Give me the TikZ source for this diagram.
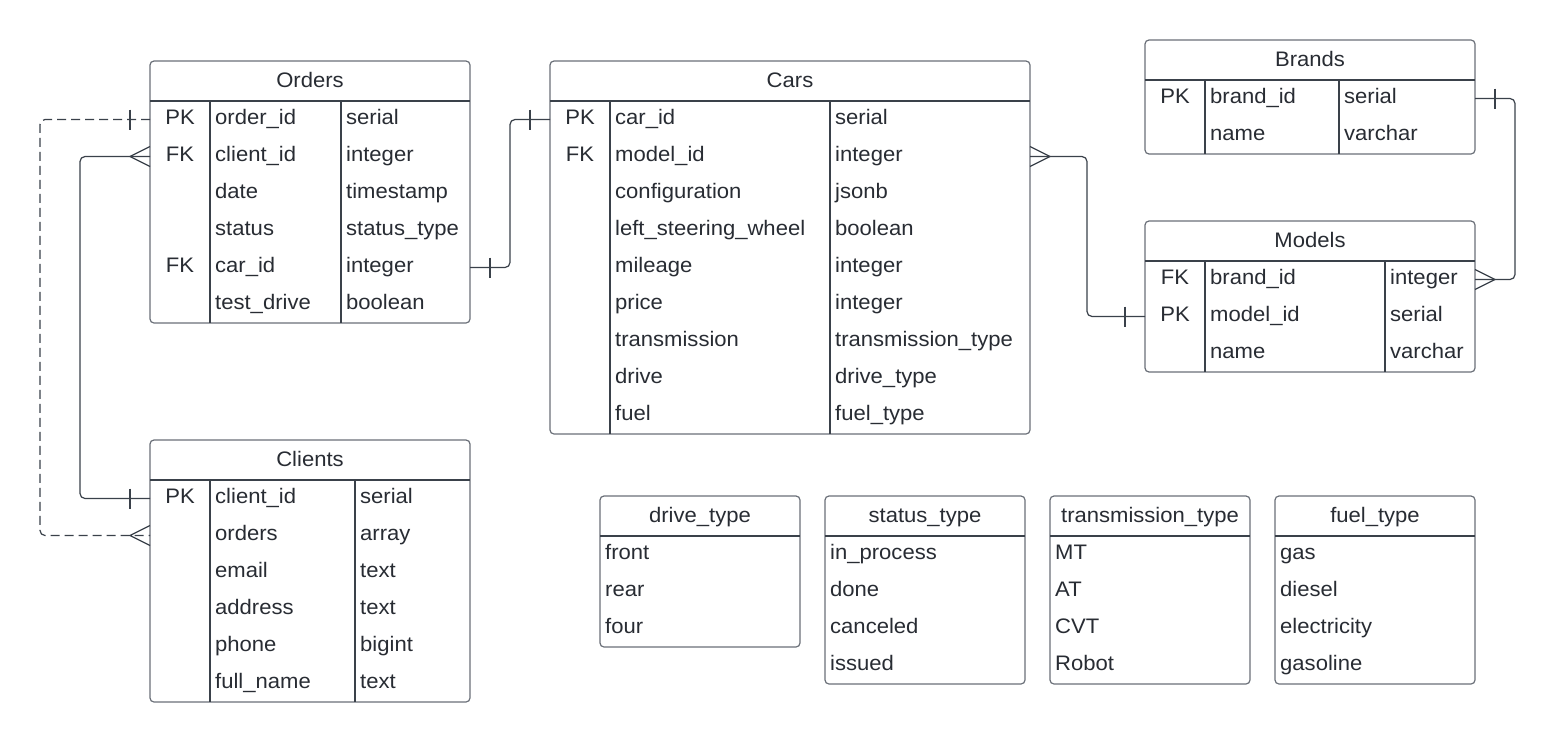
\documentclass[tikz,border=0pt]{standalone}
\usepackage{fontspec}
\setmainfont{Liberation Sans}[FakeStretch=1.05]
\definecolor{ink}{HTML}{282C33}
\definecolor{edge}{HTML}{3A414A}
\definecolor{frame}{HTML}{6B7079}
\tikzset{
  box/.style={draw=frame, line width=1.2pt, rounded corners=4pt, fill=white, inner sep=0pt, outer sep=0pt},
  sep/.style={draw=edge, line width=1.1pt},
  txt/.style={text=ink, font=\fontsize{21}{25}\selectfont, inner sep=0pt},
  conn/.style={draw=edge, line width=1.2pt, rounded corners=5pt},
  erbar/.style={draw=edge, line width=1.2pt},
  dashconn/.style={conn, dash pattern=on 9pt off 5pt}
}
% name, x, y, width, height, title
\newcommand\erbox[6]{%
  \node[box, minimum width=#4pt, minimum height=#5pt, anchor=north west] (#1) at (#2,#3) {};
  \coordinate (#1-hb) at ([yshift=-40pt]#1.north west);
  \draw[sep] (#1-hb) -- (#1-hb -| #1.east);
  \node[txt, anchor=base] (#1-title) at ([yshift=-26pt]#1.north) {#6};
}
% name, col1 x, col2 x
\newcommand\ercols[3]{%
  \draw[sep] (#1-hb -| #2,0) -- (#1.south -| #2,0);
  \draw[sep] (#1-hb -| #3,0) -- (#1.south -| #3,0);
}
% name, key center x, field x, type x, list
\newcommand\errows[5]{%
  \foreach \k/\f/\t [count=\i from 0] in {#5} {
    \path (#1-hb) ++(0,{18.5+37*\i}) coordinate (#1-r\i);
    \path (#1-r\i -| #2,0) ++(0,4.5) node[txt, anchor=base] (#1-k\i) {\k};
    \path (#1-r\i -| #3,0) ++(0,4.5) node[txt, anchor=base west] (#1-f\i) {\f};
    \path (#1-r\i -| #4,0) ++(0,4.5) node[txt, anchor=base west] (#1-t\i) {\t};
  }
}
% name, text x, list
\newcommand\erenum[3]{%
  \foreach \f [count=\i from 0] in {#3} {
    \path (#1-hb) ++(0,{18.5+37*\i}) coordinate (#1-r\i);
    \path (#1-r\i -| #2,0) ++(0,4.5) node[txt, anchor=base west] (#1-v\i) {\f};
  }
}
\begin{document}
\begin{tikzpicture}[x=1pt, y=-1pt]
\useasboundingbox (0,0) rectangle (1556,742);
\fill[white] (0,0) rectangle (1556,742);

% ---------- tables ----------
\erbox{orders}{150}{61}{320}{262}{Orders}
\ercols{orders}{210}{341}
\errows{orders}{180}{215}{346}{PK/order\_id/serial, FK/client\_id/integer, /date/timestamp, /status/status\_type, FK/car\_id/integer, /test\_drive/boolean}

\erbox{clients}{150}{440}{320}{262}{Clients}
\ercols{clients}{210}{355}
\errows{clients}{180}{215}{360}{PK/client\_id/serial, /orders/array, /email/text, /address/text, /phone/bigint, /full\_name/text}

\erbox{cars}{550}{61}{480}{373}{Cars}
\ercols{cars}{610}{830}
\errows{cars}{580}{615}{835}{PK/car\_id/serial, FK/model\_id/integer, /configuration/jsonb, /left\_steering\_wheel/boolean, /mileage/integer, /price/integer, /transmission/transmission\_type, /drive/drive\_type, /fuel/fuel\_type}

\erbox{brands}{1145}{40}{330}{114}{Brands}
\ercols{brands}{1205}{1339}
\errows{brands}{1175}{1210}{1344}{PK/brand\_id/serial, /name/varchar}

\erbox{models}{1145}{221}{330}{151}{Models}
\ercols{models}{1205}{1385}
\errows{models}{1175}{1210}{1390}{FK/brand\_id/integer, PK/model\_id/serial, /name/varchar}

\erbox{drive}{600}{496}{200}{151}{drive\_type}
\erenum{drive}{605}{front, rear, four}

\erbox{status}{825}{496}{200}{188}{status\_type}
\erenum{status}{830}{in\_process, done, canceled, issued}

\erbox{trans}{1050}{496}{200}{188}{transmission\_type}
\erenum{trans}{1055}{MT, AT, CVT, Robot}

\erbox{fuel}{1275}{496}{200}{188}{fuel\_type}
\erenum{fuel}{1280}{gas, diesel, electricity, gasoline}

% ---------- connectors ----------
\coordinate (dashx) at (40,0);
\coordinate (solidx) at (80,0);
\coordinate (ocx) at (510,0);
\coordinate (cmx) at (1087,0);
\coordinate (bmx) at (1515,0);

% Orders.order_id  -- Clients.orders (dashed)
\draw[dashconn] (orders-r0) -- (dashx |- orders-r0) -- (dashx |- clients-r1) -- (clients-r1);
\draw[erbar] ([xshift=-20pt]orders-r0) ++(0,-10) -- ++(0,20);
\draw[erbar] ([yshift=10pt]clients-r1) -- ([xshift=-20pt]clients-r1) -- ([yshift=-10pt]clients-r1);

% Orders.client_id -- Clients.client_id
\draw[conn] (orders-r1) -- (solidx |- orders-r1) -- (solidx |- clients-r0) -- (clients-r0);
\draw[erbar] ([yshift=10pt]orders-r1) -- ([xshift=-20pt]orders-r1) -- ([yshift=-10pt]orders-r1);
\draw[erbar] ([xshift=-20pt]clients-r0) ++(0,-10) -- ++(0,20);

% Orders.car_id -- Cars.car_id
\coordinate (oce) at (orders.east |- orders-r4);
\draw[conn] (oce) -- (ocx |- oce) -- (ocx |- cars-r0) -- (cars-r0);
\draw[erbar] ([xshift=20pt]oce) ++(0,-10) -- ++(0,20);
\draw[erbar] ([xshift=-20pt]cars-r0) ++(0,-10) -- ++(0,20);

% Cars.model_id -- Models.model_id
\coordinate (cme) at (cars.east |- cars-r1);
\draw[conn] (cme) -- (cmx |- cme) -- (cmx |- models-r1) -- (models-r1);
\draw[erbar] ([yshift=10pt]cme) -- ([xshift=20pt]cme) -- ([yshift=-10pt]cme);
\draw[erbar] ([xshift=-20pt]models-r1) ++(0,-10) -- ++(0,20);

% Brands.brand_id -- Models.brand_id
\coordinate (bre) at (brands.east |- brands-r0);
\coordinate (mbe) at (models.east |- models-r0);
\draw[conn] (bre) -- (bmx |- bre) -- (bmx |- mbe) -- (mbe);
\draw[erbar] ([xshift=20pt]bre) ++(0,-10) -- ++(0,20);
\draw[erbar] ([yshift=10pt]mbe) -- ([xshift=20pt]mbe) -- ([yshift=-10pt]mbe);
\end{tikzpicture}
\end{document}
